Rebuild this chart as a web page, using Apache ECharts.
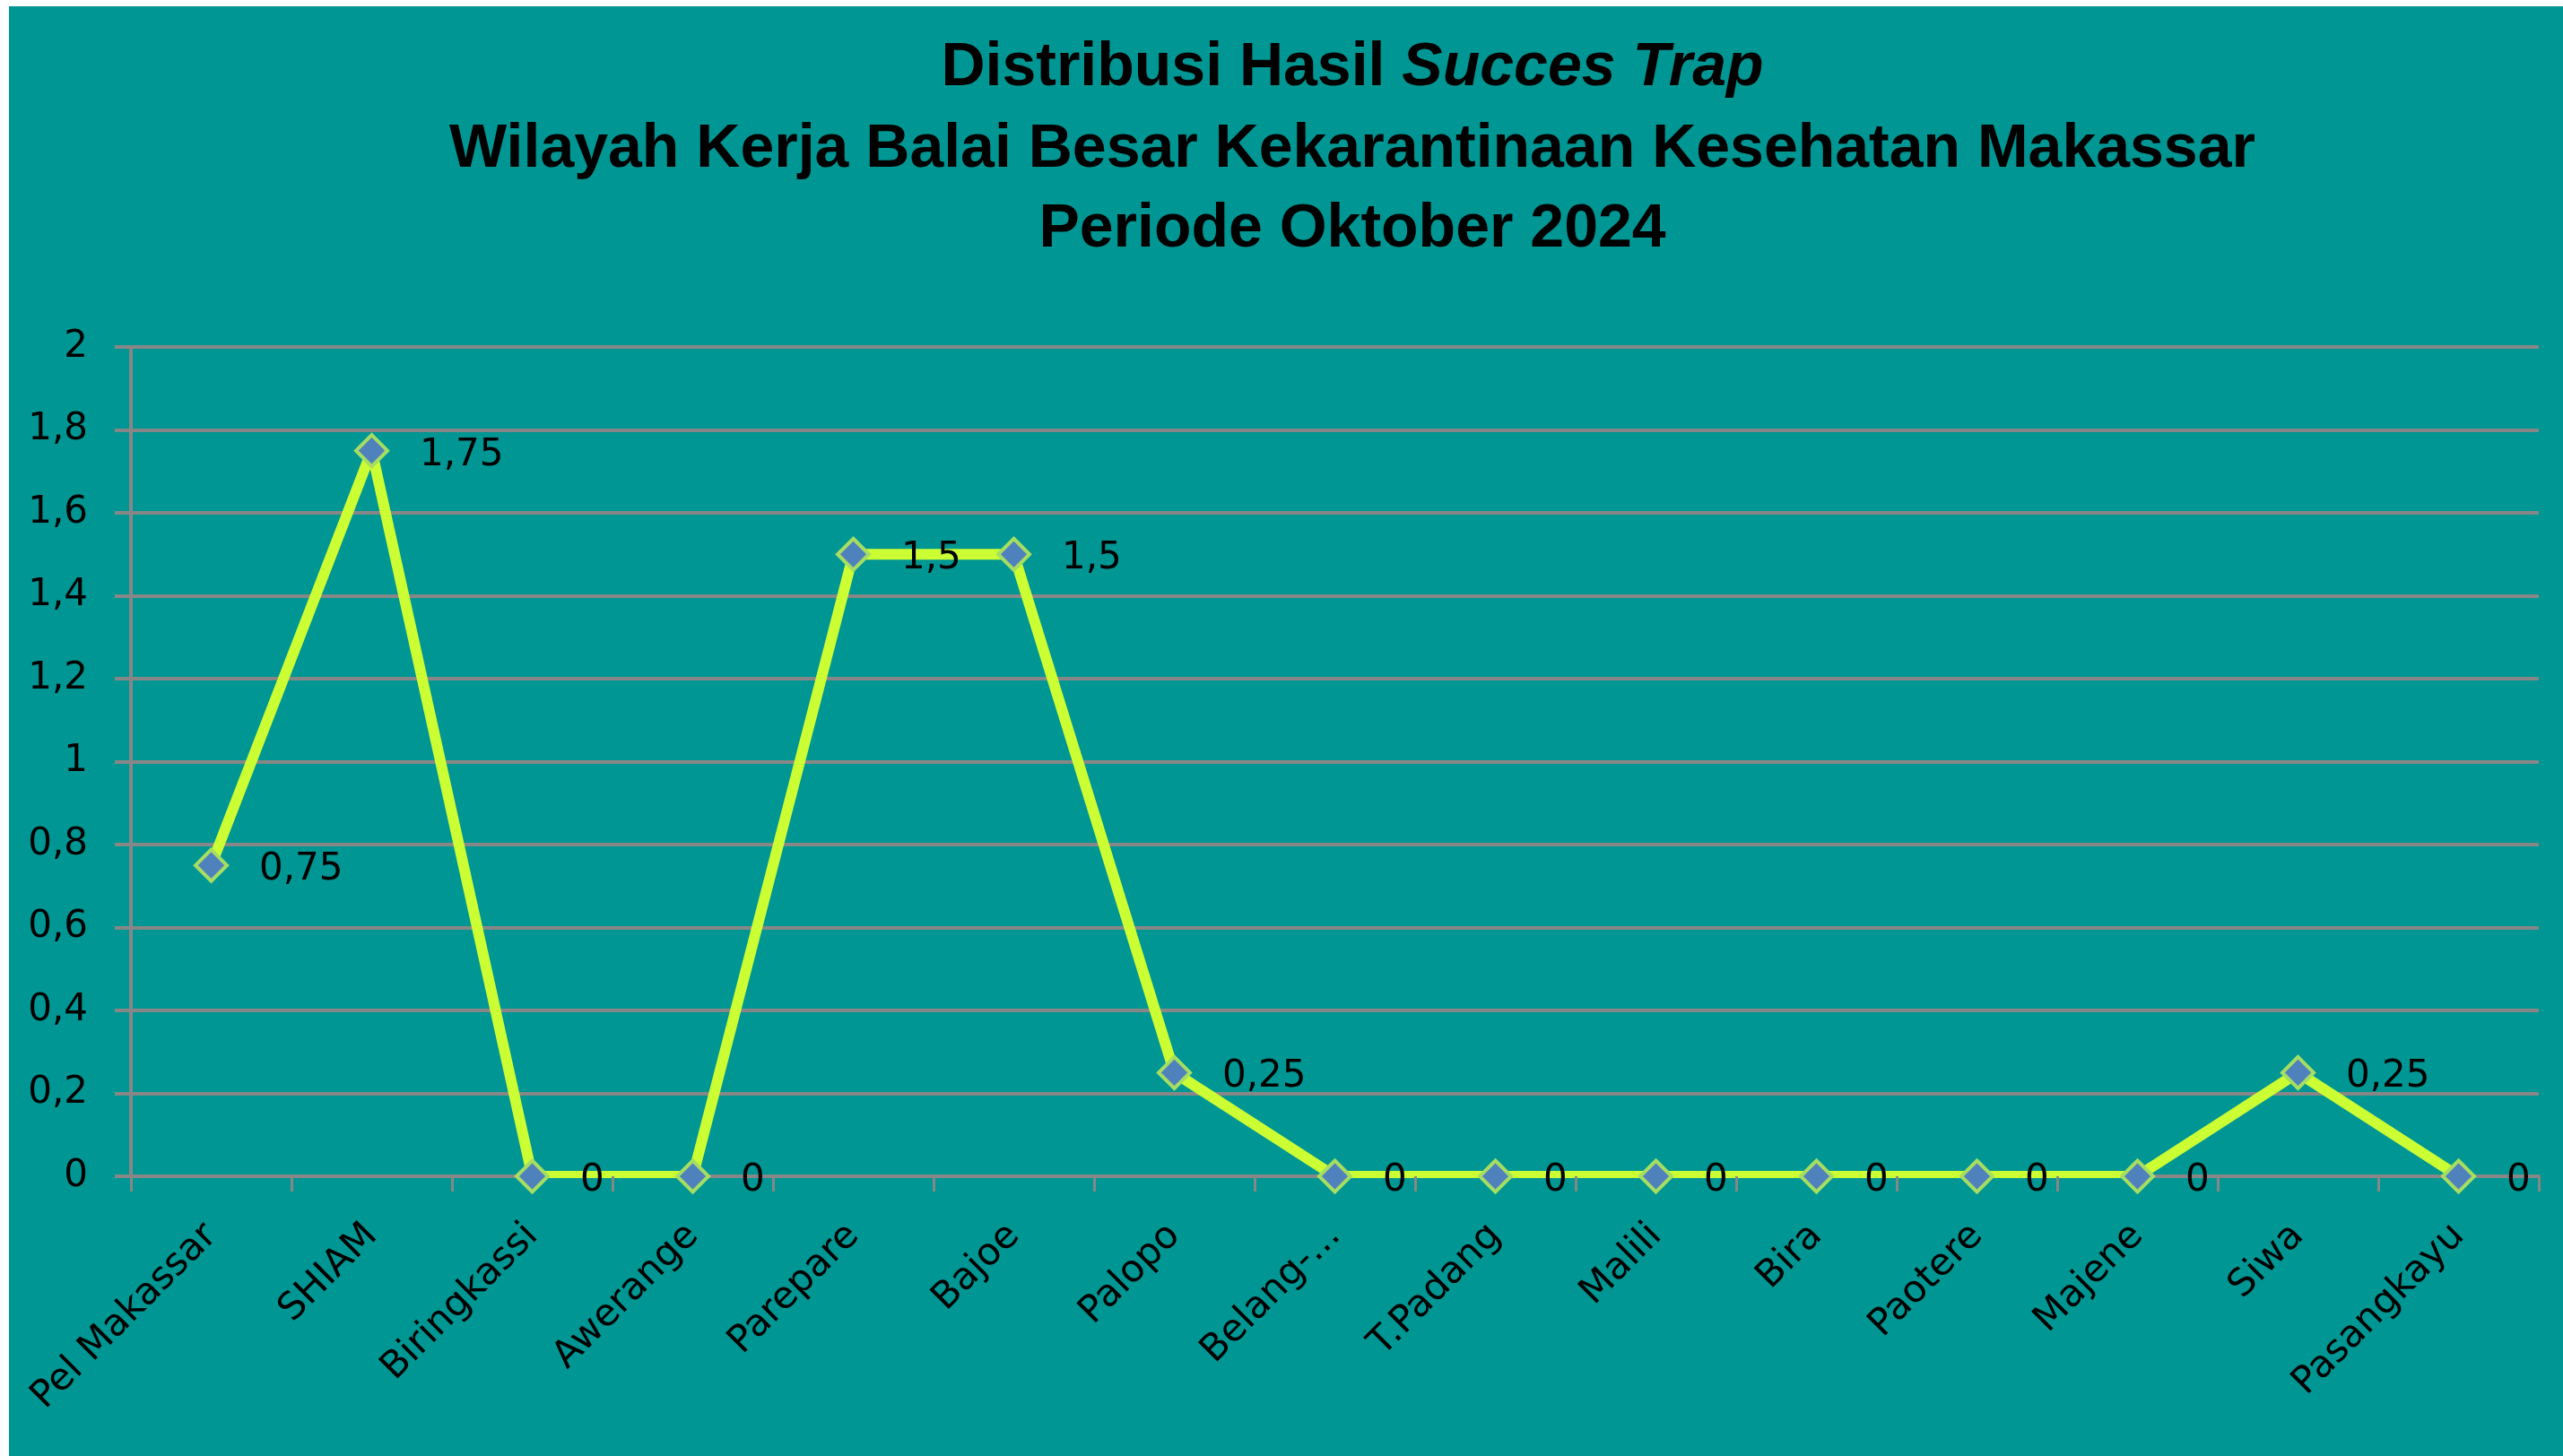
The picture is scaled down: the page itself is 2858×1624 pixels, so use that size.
<!DOCTYPE html>
<html>
<head>
<meta charset="utf-8">
<script src="https://cdn.jsdelivr.net/npm/echarts@6/dist/echarts.min.js"></script>
<style>
  html, body { margin: 0; padding: 0; background: #ffffff; }
  #chart { width: 2858px; height: 1624px; }
</style>
</head>
<body>
<div id="chart"></div>
<script>
// ---- Data ----
const categories = ['Pel Makassar', 'SHIAM', 'Biringkassi', 'Awerange', 'Parepare', 'Bajoe', 'Palopo', 'Belang-...', 'T.Padang', 'Malili', 'Bira', 'Paotere', 'Majene', 'Siwa', 'Pasangkayu'];
const values = [0.75, 1.75, 0, 0, 1.5, 1.5, 0.25, 0, 0, 0, 0, 0, 0, 0.25, 0];
const yMin = 0;
const yMax = 2;
const yInterval = 0.2;
const titleLine1a = 'Distribusi Hasil ';
const titleLine1b = 'Succes Trap';
const titleLine2 = 'Wilayah Kerja Balai Besar Kekarantinaan Kesehatan Makassar';
const titleLine3 = 'Periode Oktober 2024';

// ---- Style ----
const BG = '#009693';
const GRAY = '#878787';
const LINE = '#CCFF33';
const MARK = '#4F81BD';
const MARK_BORDER = '#A6DE62';
const LABEL_FONT = 'DejaVu Sans';
const TITLE_FONT = 'Liberation Sans';

const fmt = v => String(+Number(v).toFixed(2)).replace('.', ',');

const chart = echarts.init(document.getElementById('chart'));
const titleBase = { fontFamily: TITLE_FONT, fontWeight: 'bold', fontSize: 68, color: '#000', lineHeight: 68 };

chart.setOption({
  backgroundColor: BG,
  animation: false,
  title: [
    {
      text: '{n|' + titleLine1a + '}{i|' + titleLine1b + '}',
      left: 1508, top: 42, padding: 0, textAlign: 'center',
      textStyle: {
        rich: {
          n: Object.assign({}, titleBase),
          i: Object.assign({}, titleBase, { fontStyle: 'italic' })
        }
      }
    },
    { text: titleLine2, left: 1508, top: 133, padding: 0, textAlign: 'center', textStyle: titleBase },
    { text: titleLine3, left: 1508, top: 222, padding: 0, textAlign: 'center', textStyle: titleBase }
  ],
  grid: { left: 146, right: 27, top: 387, bottom: 312, containLabel: false },
  xAxis: [
    {
      type: 'category',
      data: categories,
      boundaryGap: true,
      position: 'bottom',
      axisLine: { show: true, lineStyle: { color: GRAY, width: 4 } },
      axisTick: { show: false },
      axisLabel: {
        rotate: 45, margin: 60, interval: 0,
        fontFamily: LABEL_FONT, fontSize: 42, color: '#000'
      },
      splitLine: { show: false },
      z: 0
    },
    {
      type: 'category',
      data: categories,
      boundaryGap: true,
      position: 'bottom',
      gridIndex: 0,
      axisLine: { show: false },
      axisLabel: { show: false },
      axisTick: { show: true, length: 17, lineStyle: { color: GRAY, width: 3 } },
      splitLine: { show: false },
      z: 5
    }
  ],
  yAxis: {
    type: 'value',
    min: yMin, max: yMax, interval: yInterval,
    axisLine: { show: true, lineStyle: { color: GRAY, width: 4 } },
    axisTick: { show: true, length: 18, lineStyle: { color: GRAY, width: 4 } },
    splitLine: { show: true, lineStyle: { color: GRAY, width: 4 } },
    axisLabel: {
      margin: 48, fontFamily: LABEL_FONT, fontSize: 42, color: '#000',
      formatter: v => String(+Number(v).toFixed(1)).replace('.', ',')
    }
  },
  graphic: {
    elements: [
      // masks the part of the line that falls below the axis (plot-area clipping)
      { type: 'rect', z: 3, silent: true, shape: { x: 146, y: 1314, width: 2685, height: 9 }, style: { fill: BG } },
      { type: 'rect', z: 100, silent: true, shape: { x: 0, y: 0, width: 10, height: 1624 }, style: { fill: '#ffffff' } },
      { type: 'rect', z: 100, silent: true, shape: { x: 0, y: 0, width: 2858, height: 7 }, style: { fill: '#ffffff' } }
    ]
  },
  series: [
    {
      type: 'line',
      data: values,
      symbol: 'none',
      z: 2,
      lineStyle: { color: LINE, width: 12, join: 'round' },
      itemStyle: { color: LINE }
    },
    {
      type: 'scatter',
      data: values,
      symbol: 'diamond',
      symbolSize: 35,
      z: 4,
      itemStyle: { color: MARK, borderColor: MARK_BORDER, borderWidth: 4, opacity: 1 },
      label: {
        show: true, position: 'right', distance: 34, offset: [0, 5],
        fontFamily: LABEL_FONT, fontSize: 42, color: '#000',
        formatter: p => fmt(p.value)
      }
    }
  ]
});
</script>
</body>
</html>
